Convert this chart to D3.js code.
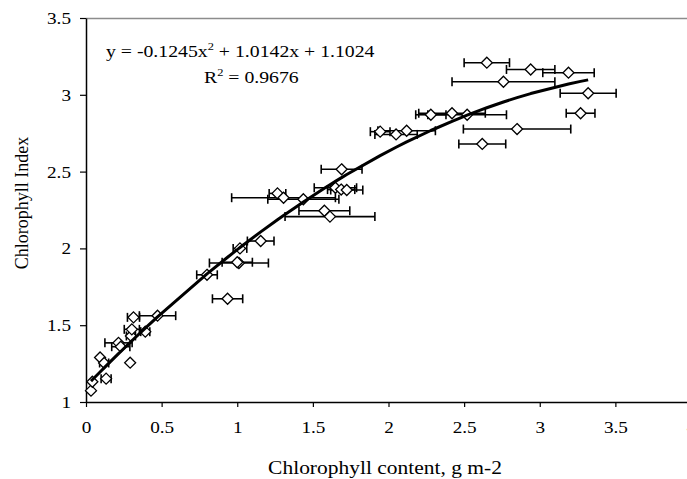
<!DOCTYPE html>
<html><head><meta charset="utf-8">
<script src="https://cdn.jsdelivr.net/npm/d3@7/dist/d3.min.js"></script>
<style>html,body{margin:0;padding:0;background:#fff;} svg{display:block;}</style>
</head><body>
<svg id="chart" width="687" height="479"></svg>
<script>
// ---- data ----
const chlContent = [0.033,0.042,0.133,0.093,0.12,0.215,0.23,0.292,0.297,0.303,0.314,0.392,0.473,0.80,0.936,1.018,1.011,1.0,1.155,1.266,1.306,1.437,1.576,1.613,1.649,1.687,1.724,1.69,1.945,2.05,2.12,2.28,2.42,2.52,2.62,2.85,2.65,2.94,2.76,3.19,3.32,3.27];
const chlIndex   = [1.074,1.132,1.152,1.29,1.254,1.385,1.36,1.256,1.43,1.473,1.551,1.458,1.562,1.828,1.672,2.0,1.905,1.91,2.048,2.358,2.33,2.32,2.245,2.207,2.395,2.383,2.38,2.515,2.76,2.742,2.766,2.87,2.88,2.87,2.68,2.777,3.209,3.165,3.085,3.144,3.01,2.88];
const chlErr     = [0,0,0.033,0,0.03,0.09,0.06,0,0.03,0.05,0.04,0.03,0.12,0.068,0.1,0.045,0.195,0.1,0.088,0.055,0.343,0.235,0.168,0.297,0.14,0.09,0.106,0.135,0.065,0.14,0.19,0.1,0.22,0.26,0.155,0.355,0.15,0.16,0.34,0.17,0.185,0.095];
const trendCoef  = [-0.1245, 1.0142, 1.1024]; // a, b, c of displayed fit
const trendR2    = "0.9676";
const xTicks = [0,0.5,1,1.5,2,2.5,3,3.5,4];
const yTicks = [1,1.5,2,2.5,3,3.5];
const xTitle = "Chlorophyll content, g m-2";
const yTitle = "Chlorophyll Index";

// ---- layout ----
const svg = d3.select("#chart");
const x = d3.scaleLinear().domain([0,4]).range([86,691]);
const y = d3.scaleLinear().domain([1,3.5]).range([402,18]);
const font = "'Liberation Serif','Times New Roman',serif";
const stretch = 1.13; // reference text is horizontally widened
function widen(sel){ sel.each(function(){ const w=this.getComputedTextLength(); d3.select(this).attr("textLength",w*stretch).attr("lengthAdjust","spacingAndGlyphs"); }); }

// plot frame (grey top/right)
svg.append("line").attr("x1",x(0)).attr("x2",x(4)).attr("y1",y(3.5)+0.5).attr("y2",y(3.5)+0.5)
  .attr("stroke","#8c8c8c").attr("stroke-width",1.5);
svg.append("line").attr("x1",x(4)).attr("x2",x(4)).attr("y1",y(3.5)).attr("y2",y(1))
  .attr("stroke","#8c8c8c").attr("stroke-width",1.5);

// axes
const fmt = d => String(d);
const gx = svg.append("g").attr("transform",`translate(0,${y(1)})`)
  .call(d3.axisBottom(x).tickValues(xTicks).tickFormat(fmt).tickSize(5).tickSizeOuter(0).tickPadding(14));
const gy = svg.append("g").attr("transform",`translate(${x(0)},0)`)
  .call(d3.axisLeft(y).tickValues(yTicks).tickFormat(fmt).tickSize(6).tickSizeOuter(0).tickPadding(9));
[gx,gy].forEach(g=>{
  g.select(".domain").attr("stroke","#000").attr("stroke-width",1.5);
  g.selectAll(".tick line").attr("stroke","#000").attr("stroke-width",1.2);
  g.selectAll(".tick text").attr("font-family",font).attr("font-size",17).attr("fill","#000").call(widen);
});

const pts = chlContent.map((v,i)=>({x:v,y:chlIndex[i],e:chlErr[i]}));

// error bars
const eb = svg.append("g").attr("stroke","#000").attr("stroke-width",1.6).attr("fill","none");
pts.filter(p=>p.e>0).forEach(p=>{
  const yy = y(p.y), x0 = x(p.x-p.e), x1 = x(p.x+p.e);
  eb.append("line").attr("x1",x0).attr("x2",x1).attr("y1",yy).attr("y2",yy);
  eb.append("line").attr("x1",x0).attr("x2",x0).attr("y1",yy-4.5).attr("y2",yy+4.5);
  eb.append("line").attr("x1",x1).attr("x2",x1).attr("y1",yy-4.5).attr("y2",yy+4.5);
});

// diamonds
const diamond = "M0,-5.5L5.5,0L0,5.5L-5.5,0Z";
svg.append("g").selectAll("path").data(pts).join("path")
  .attr("d",diamond).attr("transform",p=>`translate(${x(p.x)},${y(p.y)})`)
  .attr("fill","#fff").attr("stroke","#000").attr("stroke-width",1.3);

// trend line through fitted values at the observed x positions
const fit = v => trendCoef[0]*v*v + trendCoef[1]*v + trendCoef[2];
const xs = Array.from(new Set(chlContent)).sort((a,b)=>a-b);
svg.append("path").datum(xs)
  .attr("d",d3.line().x(v=>x(v)).y(v=>y(fit(v))))
  .attr("fill","none").attr("stroke","#000").attr("stroke-width",3).attr("stroke-linejoin","round");

// equation label
const eqG = svg.append("g").attr("transform","translate(106,57) scale(1.13,1)");
const eq = eqG.append("text").attr("font-family",font).attr("font-size",17.5).attr("fill","#000");
eq.append("tspan").text(`y = ${trendCoef[0]}x`);
eq.append("tspan").attr("dy",-7).attr("font-size",11).text("2");
eq.append("tspan").attr("dy",7).text(` + ${trendCoef[1]}x + ${trendCoef[2]}`);
const r2G = svg.append("g").attr("transform","translate(204,83) scale(1.13,1)");
const r2 = r2G.append("text").attr("font-family",font).attr("font-size",17.5).attr("fill","#000");
r2.append("tspan").text("R");
r2.append("tspan").attr("dy",-7).attr("font-size",11).text("2");
r2.append("tspan").attr("dy",7).text(` = ${trendR2}`);

// axis titles
svg.append("text").attr("x",385).attr("y",474).attr("text-anchor","middle")
  .attr("font-family",font).attr("font-size",19).attr("fill","#000").text(xTitle).call(widen);
svg.append("text").attr("transform","translate(28,203) rotate(-90)").attr("text-anchor","middle")
  .attr("font-family",font).attr("font-size",18).attr("fill","#000").text(yTitle);
</script>
</body></html>
